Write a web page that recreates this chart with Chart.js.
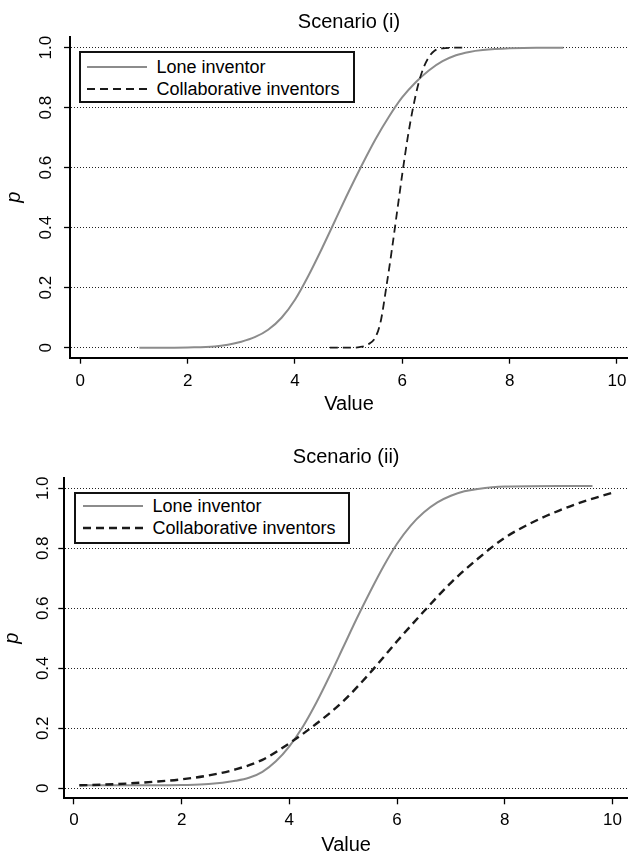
<!DOCTYPE html>
<html>
<head>
<meta charset="utf-8">
<title>Scenario (i) and (ii)</title>
<script src="https://cdn.jsdelivr.net/npm/chart.js@4.4.1/dist/chart.umd.min.js"></script>
<style>
    html, body { margin: 0; padding: 0; background: #fff; overflow: hidden; }
    #wrap { position: relative; width: 628px; height: 854px; overflow: hidden; }
    #wrap canvas { position: absolute; left: 0; }
    .legend {
        position: absolute;
        box-sizing: border-box;
        border: 2px solid #111;
        background: #fff;
        font-family: "Liberation Sans", Arial, sans-serif;
        font-size: 18px;
        color: #000;
    }
    .legend .row { position: absolute; left: 0; height: 18px; line-height: 18px; white-space: nowrap; }
    .legend svg { position: absolute; top: 7px; }
    .legend span { position: absolute; top: 0; }
</style>
</head>
<body>
<div id="wrap">
    <canvas id="chart1" width="628" height="420" style="top:0px"></canvas>
    <canvas id="chart2" width="628" height="440" style="top:420px"></canvas>
    <div class="legend" id="legend1"></div>
    <div class="legend" id="legend2"></div>
</div>
<script>
var seriesNames = ['Lone inventor', 'Collaborative inventors'];
var xTicks = [0, 2, 4, 6, 8, 10];
var xTickLabels = ['0', '2', '4', '6', '8', '10'];
var yTicks = [0, 0.2, 0.4, 0.6, 0.8, 1.0];
var yTickLabels = ['0', '0.2', '0.4', '0.6', '0.8', '1.0'];

// Scenario (i)
var loneX1 = [1.1, 1.5, 2.0, 2.5, 2.75, 3.0, 3.25, 3.5, 3.75, 4.0, 4.25, 4.5, 4.75, 5.0, 5.25, 5.5, 5.75, 6.0, 6.25, 6.5, 6.75, 7.0, 7.25, 7.5, 8.0, 8.5, 9.0];
var loneY1 = [0.000, 0.000, 0.001, 0.004, 0.010, 0.020, 0.035, 0.060, 0.100, 0.160, 0.240, 0.330, 0.425, 0.520, 0.610, 0.695, 0.770, 0.835, 0.885, 0.925, 0.955, 0.975, 0.986, 0.992, 0.998, 1.000, 1.000];
var collabX1 = [4.65, 5.0, 5.2, 5.35, 5.5, 5.6, 5.7, 5.8, 5.9, 6.0, 6.1, 6.2, 6.3, 6.4, 6.5, 6.6, 6.75, 7.0, 7.2];
var collabY1 = [0.000, 0.000, 0.002, 0.010, 0.035, 0.090, 0.200, 0.320, 0.450, 0.580, 0.700, 0.800, 0.880, 0.935, 0.970, 0.990, 0.998, 1.000, 1.000];

// Scenario (ii)
var loneX2 = [0.1, 0.5, 1.0, 1.5, 2.0, 2.5, 3.0, 3.25, 3.5, 3.75, 4.0, 4.25, 4.5, 4.75, 5.0, 5.25, 5.5, 5.75, 6.0, 6.25, 6.5, 6.75, 7.0, 7.25, 7.5, 8.0, 9.0, 9.63];
var loneY2 = [0.010, 0.010, 0.010, 0.010, 0.011, 0.014, 0.025, 0.035, 0.055, 0.090, 0.140, 0.205, 0.285, 0.375, 0.470, 0.565, 0.655, 0.740, 0.815, 0.875, 0.920, 0.953, 0.975, 0.990, 0.998, 1.006, 1.008, 1.008];
var collabX2 = [0.1, 0.5, 1.0, 1.5, 2.0, 2.5, 3.0, 3.5, 4.0, 4.5, 5.0, 5.5, 6.0, 6.5, 7.0, 7.5, 8.0, 8.5, 9.0, 9.5, 10.0];
var collabY2 = [0.010, 0.012, 0.016, 0.022, 0.030, 0.043, 0.063, 0.095, 0.150, 0.215, 0.290, 0.385, 0.490, 0.590, 0.685, 0.765, 0.835, 0.885, 0.925, 0.958, 0.985];

var FONT = '"Liberation Sans", Arial, sans-serif';
var LONE_COLOR = '#8c8c8c';
var COLLAB_COLOR = '#1a1a1a';

function toPoints(xs, ys) {
    return xs.map(function(x, i) { return {x: x, y: ys[i]}; });
}

function makeChart(canvasId, title, lone, collab, g) {
    var ctx = document.getElementById(canvasId).getContext('2d');
    return new Chart(ctx, {
        type: 'line',
        data: {
            datasets: [{
                label: seriesNames[0],
                data: toPoints(lone[0], lone[1]),
                borderColor: LONE_COLOR,
                borderWidth: 2,
                pointRadius: 0,
                cubicInterpolationMode: 'monotone',
                fill: false,
                order: 2
            }, {
                label: seriesNames[1],
                data: toPoints(collab[0], collab[1]),
                borderColor: COLLAB_COLOR,
                borderWidth: g.dashWidth,
                borderDash: [8, 5],
                pointRadius: 0,
                cubicInterpolationMode: 'monotone',
                fill: false,
                order: 1
            }]
        },
        options: {
            responsive: false,
            animation: false,
            events: [],
            layout: { padding: 0 },
            plugins: {
                legend: { display: false },
                tooltip: { enabled: false },
                title: {
                    display: true,
                    text: title,
                    fullSize: false,
                    color: '#000',
                    font: { family: FONT, size: 20, weight: 'normal' },
                    padding: { top: g.titleTop, bottom: g.titleBottom }
                }
            },
            scales: {
                x: {
                    type: 'linear',
                    min: g.xMin,
                    max: g.xMax,
                    afterBuildTicks: function(s) {
                        s.ticks = xTicks.map(function(v) { return {value: v}; });
                    },
                    afterFit: function(s) {
                        s.height = g.xAxisHeight;
                        s.paddingLeft = 0;
                        s.paddingRight = 0;
                    },
                    ticks: {
                        autoSkip: false,
                        maxRotation: 0,
                        padding: g.xPad,
                        color: '#000',
                        font: { family: FONT, size: 17 },
                        callback: function(v, i) { return xTickLabels[i]; }
                    },
                    grid: {
                        drawOnChartArea: false,
                        drawTicks: true,
                        tickLength: 6,
                        tickColor: '#000',
                        tickWidth: 1.3
                    },
                    border: { display: true, color: '#000', width: 2 },
                    title: {
                        display: true,
                        text: 'Value',
                        color: '#000',
                        font: { family: FONT, size: 20 },
                        padding: { top: 0, bottom: g.valuePad }
                    }
                },
                y: {
                    type: 'linear',
                    min: g.yMin,
                    max: g.yMax,
                    afterBuildTicks: function(s) {
                        s.ticks = yTicks.map(function(v) { return {value: v}; });
                    },
                    afterFit: function(s) {
                        s.width = g.axisLeft;
                        s.paddingTop = 0;
                        s.paddingBottom = 0;
                    },
                    ticks: {
                        autoSkip: false,
                        minRotation: 90,
                        maxRotation: 90,
                        crossAlign: 'center',
                        padding: g.yPad,
                        color: '#000',
                        font: { family: FONT, size: 17 },
                        callback: function(v, i) { return yTickLabels[i]; }
                    },
                    grid: {
                        color: '#222',
                        lineWidth: 1,
                        drawTicks: true,
                        tickLength: 6,
                        tickColor: '#000',
                        tickWidth: 1.3,
                        tickBorderDash: []
                    },
                    border: { display: true, color: '#000', width: 2, dash: [1, 2] },
                    title: {
                        display: true,
                        text: 'p',
                        color: '#000',
                        font: { family: FONT, size: 20, style: 'italic' },
                        padding: { top: g.pPad, bottom: 0 }
                    }
                }
            }
        }
    });
}

function buildLegend(id, box, dashWidth) {
    var el = document.getElementById(id);
    el.style.left = box.left + 'px';
    el.style.top = box.top + 'px';
    el.style.width = box.width + 'px';
    el.style.height = box.height + 'px';
    var styles = [
        { color: LONE_COLOR, width: 2, dash: '' },
        { color: COLLAB_COLOR, width: dashWidth, dash: '8 5' }
    ];
    seriesNames.forEach(function(name, i) {
        var row = document.createElement('div');
        row.className = 'row';
        row.style.top = (box.rows[i] - box.top - 2 - 9) + 'px';
        var s = styles[i];
        row.innerHTML =
            '<svg width="60" height="4" style="left:' + box.sample + 'px">' +
            '<line x1="0" y1="2" x2="60" y2="2" stroke="' + s.color + '" stroke-width="' + s.width + '"' +
            (s.dash ? ' stroke-dasharray="' + s.dash + '"' : '') + '/></svg>' +
            '<span style="left:' + box.text + 'px">' + name + '</span>';
        el.appendChild(row);
    });
}

makeChart('chart1', 'Scenario (i)', [loneX1, loneY1], [collabX1, collabY1], {
    axisLeft: 70, xMin: -0.192, xMax: 10.205, yMin: -0.0333, yMax: 1.0367,
    titleTop: 10, titleBottom: 2.7, xAxisHeight: 62.3, xPad: 7, yPad: 5.7,
    pPad: 2, valuePad: 4, dashWidth: 1.8
});
makeChart('chart2', 'Scenario (ii)', [loneX2, loneY2], [collabX2, collabY2], {
    axisLeft: 64.3, xMin: -0.18, xMax: 10.29, yMin: -0.0333, yMax: 1.0343,
    titleTop: 25, titleBottom: 9, xAxisHeight: 61.7, xPad: 6.2, yPad: 3.5,
    pPad: 0, valuePad: 3, dashWidth: 2.4
});

buildLegend('legend1', { left: 79, top: 51, width: 276, height: 52, rows: [66.7, 89], sample: 5.5, text: 75.5 }, 1.8);
buildLegend('legend2', { left: 74, top: 492, width: 276, height: 52, rows: [506, 528.3], sample: 6.5, text: 76.5 }, 2.4);
</script>
</body>
</html>
